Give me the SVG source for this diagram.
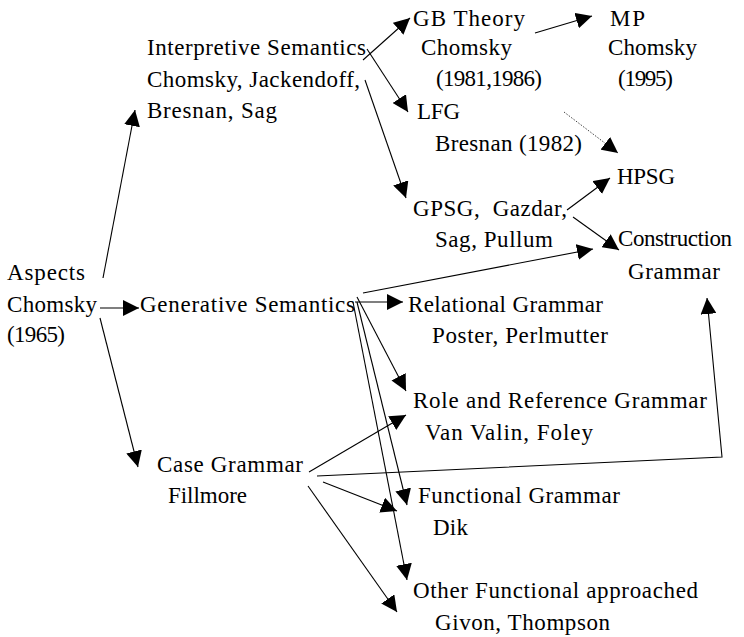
<svg xmlns="http://www.w3.org/2000/svg" width="744" height="637" viewBox="0 0 744 637">
<defs>
<style>
.c line,.c polyline{stroke:#000;stroke-width:1.1;fill:none}
.c .dot{stroke:#444;stroke-width:1;stroke-dasharray:1.5 1.5}
</style>
<marker id="ah" markerWidth="16" markerHeight="16" refX="16" refY="8" orient="auto" markerUnits="userSpaceOnUse"><path d="M0,0 L16,8 L0,16 z" fill="#000"/></marker>
</defs>
<rect width="744" height="637" fill="#fff"/>
<g class="c" id="connectors">
<line x1="103" y1="278" x2="135" y2="110" marker-end="url(#ah)"/>
<line x1="100" y1="308" x2="139" y2="308" marker-end="url(#ah)"/>
<line x1="100" y1="318" x2="138" y2="467" marker-end="url(#ah)"/>
<line x1="363" y1="60" x2="410" y2="18" marker-end="url(#ah)"/>
<line x1="367" y1="49" x2="408" y2="112" marker-end="url(#ah)"/>
<line x1="365" y1="80" x2="406" y2="198" marker-end="url(#ah)"/>
<line x1="535" y1="33" x2="592" y2="16" marker-end="url(#ah)"/>
<line class="dot" x1="564" y1="112" x2="618" y2="153" marker-end="url(#ah)"/>
<line x1="567" y1="210" x2="610" y2="178" marker-end="url(#ah)"/>
<line x1="573" y1="217" x2="619" y2="250" marker-end="url(#ah)"/>
<line x1="363" y1="293" x2="593" y2="249" marker-end="url(#ah)"/>
<line x1="355" y1="302" x2="403" y2="302" marker-end="url(#ah)"/>
<line x1="357" y1="297" x2="406" y2="391" marker-end="url(#ah)"/>
<line x1="357" y1="302" x2="407" y2="505" marker-end="url(#ah)"/>
<line x1="353" y1="302" x2="407" y2="580" marker-end="url(#ah)"/>
<line x1="309" y1="472" x2="406" y2="415" marker-end="url(#ah)"/>
<line x1="323" y1="482" x2="397" y2="511" marker-end="url(#ah)"/>
<line x1="308" y1="486" x2="397" y2="612" marker-end="url(#ah)"/>
<polyline points="317,476 722,457 707,298" marker-end="url(#ah)"/>
</g>
<g font-family="'Liberation Serif', serif" font-size="23" fill="#000">
<g id="aspects">
<text font-family="Liberation Serif" x="7" y="280" textLength="78">Aspects</text>
<text font-family="Liberation Serif" x="7" y="312" textLength="90">Chomsky</text>
<text font-family="Liberation Serif" x="7" y="342" textLength="58">(1965)</text>
</g>
<g id="interpretive">
<text font-family="Liberation Serif" x="147" y="55" textLength="219">Interpretive Semantics</text>
<text font-family="Liberation Serif" x="147" y="87" textLength="213">Chomsky, Jackendoff,</text>
<text font-family="Liberation Serif" x="147" y="118" textLength="130">Bresnan, Sag</text>
</g>
<g id="generative">
<text font-family="Liberation Serif" x="140" y="312" textLength="215">Generative Semantics</text>
</g>
<g id="case">
<text font-family="Liberation Serif" x="157" y="472" textLength="146">Case Grammar</text>
<text font-family="Liberation Serif" x="168" y="503" textLength="79">Fillmore</text>
</g>
<g id="gb">
<text font-family="Liberation Serif" x="413" y="26" textLength="112">GB Theory</text>
<text font-family="Liberation Serif" x="421" y="55" textLength="91">Chomsky</text>
<text font-family="Liberation Serif" x="436" y="86" textLength="106">(1981,1986)</text>
</g>
<g id="mp">
<text font-family="Liberation Serif" x="610" y="26" textLength="35">MP</text>
<text font-family="Liberation Serif" x="608" y="55" textLength="89">Chomsky</text>
<text font-family="Liberation Serif" x="618" y="86" textLength="55">(1995)</text>
</g>
<g id="lfg">
<text font-family="Liberation Serif" x="417" y="119" textLength="43">LFG</text>
<text font-family="Liberation Serif" x="435" y="151" textLength="147">Bresnan (1982)</text>
</g>
<g id="hpsg">
<text font-family="Liberation Serif" x="617" y="184" textLength="58">HPSG</text>
</g>
<g id="gpsg">
<text font-family="Liberation Serif" x="413" y="216" textLength="154" xml:space="preserve">GPSG,  Gazdar,</text>
<text font-family="Liberation Serif" x="435" y="247" textLength="118">Sag, Pullum</text>
</g>
<g id="construction">
<text font-family="Liberation Serif" x="618" y="246" textLength="114">Construction</text>
<text font-family="Liberation Serif" x="628" y="279" textLength="92">Grammar</text>
</g>
<g id="relational">
<text font-family="Liberation Serif" x="408" y="312" textLength="195">Relational Grammar</text>
<text font-family="Liberation Serif" x="432" y="343" textLength="176">Poster, Perlmutter</text>
</g>
<g id="role">
<text font-family="Liberation Serif" x="413" y="408" textLength="294">Role and Reference Grammar</text>
<text font-family="Liberation Serif" x="425" y="440" textLength="168">Van Valin, Foley</text>
</g>
<g id="functional">
<text font-family="Liberation Serif" x="418" y="503" textLength="202">Functional Grammar</text>
<text font-family="Liberation Serif" x="433" y="535" textLength="35">Dik</text>
</g>
<g id="other">
<text font-family="Liberation Serif" x="413" y="598" textLength="285">Other Functional approached</text>
<text font-family="Liberation Serif" x="435" y="630" textLength="175">Givon, Thompson</text>
</g>
</g>
</svg>
